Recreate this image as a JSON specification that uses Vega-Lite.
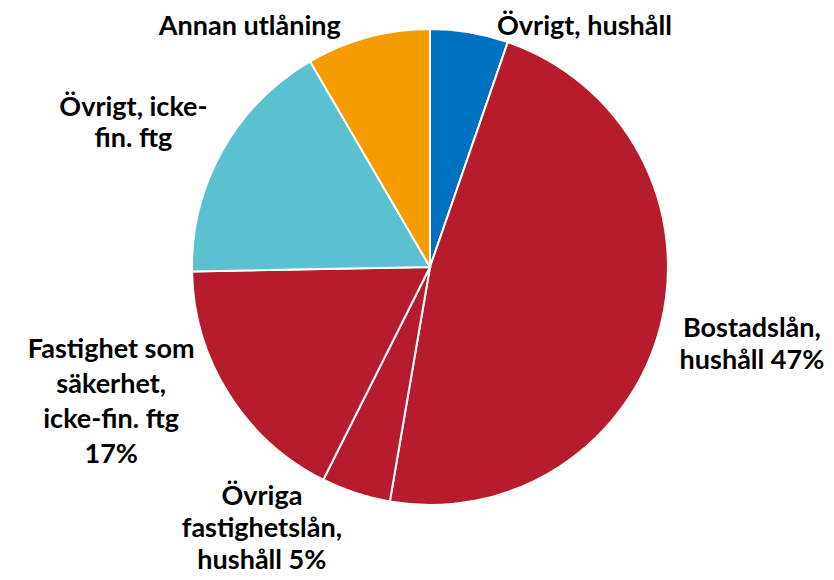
{
  "$schema": "https://vega.github.io/schema/vega-lite/v6.json",
  "autosize": {"type": "none"},
  "width": 808,
  "height": 476,
  "padding": {"left": 26, "right": 0, "top": 29, "bottom": 75},
  "background": "white",
  "config": {"view": {"stroke": null}},
  "data": {
    "values": [
      {"rank": 1, "cat": "Övrigt, hushåll", "value": 5.3, "label": "Övrigt, hushåll"},
      {"rank": 2, "cat": "Bostadslån, hushåll", "value": 47.4, "label": "Bostadslån,\nhushåll 47%"},
      {"rank": 3, "cat": "Övriga fastighetslån, hushåll", "value": 4.7, "label": "Övriga\nfastighetslån,\nhushåll 5%"},
      {"rank": 4, "cat": "Fastighet som säkerhet, icke-fin. ftg", "value": 17.3, "label": "Fastighet som\nsäkerhet,\nicke-fin. ftg\n17%"},
      {"rank": 5, "cat": "Övrigt, icke-fin. ftg", "value": 16.9, "label": "Övrigt, icke-\nfin. ftg"},
      {"rank": 6, "cat": "Annan utlåning", "value": 8.4, "label": "Annan utlåning"}
    ]
  },
  "encoding": {
    "theta": {"field": "value", "type": "quantitative", "stack": true},
    "order": {"field": "rank", "type": "quantitative"}
  },
  "layer": [
    {
      "mark": {"type": "arc", "outerRadius": 238, "stroke": "white", "strokeWidth": 2},
      "encoding": {
        "color": {
          "field": "cat",
          "type": "nominal",
          "scale": {
            "domain": ["Övrigt, hushåll", "Bostadslån, hushåll", "Övriga fastighetslån, hushåll", "Fastighet som säkerhet, icke-fin. ftg", "Övrigt, icke-fin. ftg", "Annan utlåning"],
            "range": ["#0070C0", "#B71C2C", "#B71C2C", "#B71C2C", "#5BC1D0", "#F59C00"]
          },
          "legend": null
        }
      }
    },
    {
      "mark": {"type": "text", "radius": 250, "dx": 113, "dy": 15, "align": "center", "baseline": "alphabetic", "font": "Lato", "fontWeight": "bold", "fontSize": 27, "color": "#000000", "lineBreak": "\n"},
      "encoding": {"text": {"condition": {"test": "datum.rank === 1", "field": "label"}, "value": ""}}
    },
    {
      "mark": {"type": "text", "radius": 320, "dx": 12, "dy": -10, "align": "center", "baseline": "alphabetic", "font": "Lato", "fontWeight": "bold", "fontSize": 27, "lineHeight": 32, "color": "#000000", "lineBreak": "\n"},
      "encoding": {"text": {"condition": {"test": "datum.rank === 2", "field": "label"}, "value": ""}}
    },
    {
      "mark": {"type": "text", "radius": 260, "dx": -87, "dy": -9, "align": "center", "baseline": "alphabetic", "font": "Lato", "fontWeight": "bold", "fontSize": 27, "lineHeight": 32, "color": "#000000", "lineBreak": "\n"},
      "encoding": {"text": {"condition": {"test": "datum.rank === 3", "field": "label"}, "value": ""}}
    },
    {
      "mark": {"type": "text", "radius": 300, "dx": -65, "dy": -69, "align": "center", "baseline": "alphabetic", "font": "Lato", "fontWeight": "bold", "fontSize": 27, "lineHeight": 35, "color": "#000000", "lineBreak": "\n"},
      "encoding": {"text": {"condition": {"test": "datum.rank === 4", "field": "label"}, "value": ""}}
    },
    {
      "mark": {"type": "text", "radius": 300, "dx": -35, "dy": -4, "align": "center", "baseline": "alphabetic", "font": "Lato", "fontWeight": "bold", "fontSize": 27, "lineHeight": 31, "color": "#000000", "lineBreak": "\n"},
      "encoding": {"text": {"condition": {"test": "datum.rank === 5", "field": "label"}, "value": ""}}
    },
    {
      "mark": {"type": "text", "radius": 250, "dx": -115, "dy": 9, "align": "center", "baseline": "alphabetic", "font": "Lato", "fontWeight": "bold", "fontSize": 27, "color": "#000000", "lineBreak": "\n"},
      "encoding": {"text": {"condition": {"test": "datum.rank === 6", "field": "label"}, "value": ""}}
    }
  ]
}
